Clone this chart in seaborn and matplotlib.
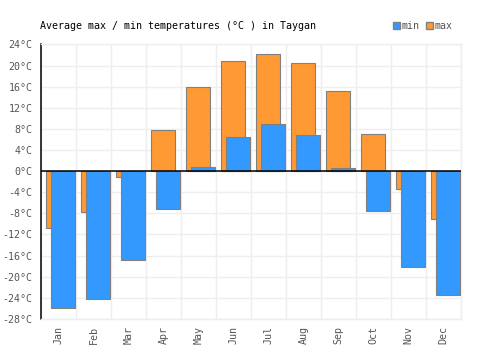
import numpy as np
import pandas as pd
import matplotlib
matplotlib.use("Agg")
import matplotlib.pyplot as plt
from matplotlib.patches import Patch
import seaborn as sns

# Average temperatures in Taygan
months = ["Jan", "Feb", "Mar", "Apr", "May", "Jun",
          "Jul", "Aug", "Sep", "Oct", "Nov", "Dec"]
temp_max = [-10.7, -7.8, -1.2, 7.8, 15.9, 20.8, 22.1, 20.4, 15.1, 7.0, -3.3, -9.0]
temp_min = [-26.0, -24.2, -16.8, -7.1, 0.7, 6.4, 9.0, 6.8, 0.5, -7.5, -18.2, -23.4]
y_ticks = list(range(-28, 25, 4))

MAX_COLOR = "#ff9933"
MIN_COLOR = "#3399ff"
EDGE = "#808080"
TEXT = "#555555"

sns.set_style("white")
plt.rcParams["font.family"] = ["DejaVu Sans Mono"]

idx = np.arange(len(months))
df = pd.DataFrame({"month": months, "pos": idx, "max": temp_max, "min": temp_min})

fig = plt.figure(figsize=(5, 3.5), dpi=100)
ax = fig.add_axes([0.082, 0.089, 0.84, 0.784])

# max bars sit behind, min bars are shifted right and drawn on top
sns.barplot(x=df["pos"] - 0.02, y=df["max"], native_scale=True, width=0.67,
            color=MAX_COLOR, saturation=1, edgecolor=EDGE, linewidth=0.8,
            ax=ax, zorder=2)
sns.barplot(x=df["pos"] + 0.14, y=df["min"], native_scale=True, width=0.69,
            color=MIN_COLOR, saturation=1, edgecolor=EDGE, linewidth=0.8,
            ax=ax, zorder=3)

ax.set_xlim(-0.5, len(months) - 0.5)
ax.set_ylim(-28, 24)
ax.set_xlabel("")
ax.set_ylabel("")

ax.set_xticks(idx)
ax.set_xticklabels(months, rotation=90, color=TEXT, fontsize=7.2)
ax.set_xticks(np.arange(-0.5, len(months), 1), minor=True)
ax.set_yticks(y_ticks)
ax.set_yticklabels([f"{t}°C" for t in y_ticks], color=TEXT, fontsize=7.2)
ax.tick_params(axis="both", which="both", length=0)
ax.tick_params(axis="y", pad=6)
ax.tick_params(axis="x", pad=5)

ax.grid(True, axis="y", color="#eeeeee", linewidth=1, zorder=0)
ax.grid(True, axis="x", which="minor", color="#eeeeee", linewidth=1, zorder=0)
ax.grid(False, axis="x", which="major")
ax.set_axisbelow(True)

for side in ["top", "right", "bottom"]:
    ax.spines[side].set_color("#eeeeee")
    ax.spines[side].set_linewidth(1)
ax.spines["left"].set_color("black")
ax.spines["left"].set_linewidth(1.1)
ax.axhline(0, color="black", linewidth=1.1, zorder=4)

fig.text(0.079, 0.925, "Average max / min temperatures (°C ) in Taygan",
         fontsize=7.2, color="black", va="center", ha="left")

handles = [Patch(facecolor=MIN_COLOR, edgecolor=EDGE, label="min"),
           Patch(facecolor=MAX_COLOR, edgecolor=EDGE, label="max")]
leg = fig.legend(handles=handles, loc="center right", bbox_to_anchor=(0.905, 0.925),
                 ncol=2, frameon=False, fontsize=7.2, handlelength=0.7,
                 handleheight=0.7, handletextpad=0.2, columnspacing=0.6,
                 borderpad=0, borderaxespad=0)
for t in leg.get_texts():
    t.set_color(TEXT)

fig.savefig("out.png", dpi=100)
